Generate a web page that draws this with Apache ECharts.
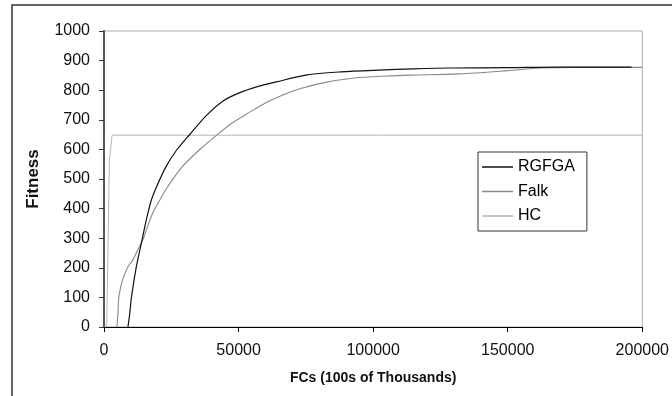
<!DOCTYPE html>
<html>
<head>
<meta charset="utf-8">
<script src="https://cdn.jsdelivr.net/npm/echarts@6/dist/echarts.min.js"></script>
<style>
  html, body { margin: 0; padding: 0; background: #fff; }
  #chart { width: 672px; height: 396px; }
</style>
</head>
<body>
<div id="chart"></div>
<script>
// values, [FCs, fitness]
const rgfga = [
  [8900, 0], [9500, 40], [10200, 100], [12000, 203], [13900, 284], [15700, 361],
  [17600, 429], [19500, 473], [23000, 541], [27000, 598], [32000, 652], [38000, 714], [44000, 762],
  [50000, 790], [57000, 812], [64000, 828], [75000, 851], [88000, 862], [102000, 868],
  [115000, 872], [129000, 875], [150000, 876], [168000, 878], [196000, 878]
];
const falk = [
  [4800, 0], [5200, 50], [5500, 100], [6600, 150], [7400, 172], [9000, 205], [10700, 226],
  [12500, 260], [14400, 294], [16200, 340], [18100, 385], [20700, 429], [23600, 473],
  [29000, 541], [35400, 598], [42800, 655], [47600, 689], [54000, 725], [60000, 757],
  [66000, 782], [71000, 800], [81000, 824], [93000, 841], [105000, 848], [114000, 851],
  [132000, 855], [150000, 866], [162000, 875], [175000, 877], [200000, 877]
];
const hc = [[1000, 0], [2000, 560], [3000, 648], [200000, 648]];
const seriesNames = ['RGFGA', 'Falk', 'HC'];
const xTitle = 'FCs (100s of Thousands)';
const yTitle = 'Fitness';

const chart = echarts.init(document.getElementById('chart'));
const font = '"Liberation Sans", Arial, sans-serif';

let option = {
  animation: false,
  backgroundColor: '#fff',
  graphic: [{
    // outer chart frame, runs off the bottom/right of the picture
    type: 'rect',
    shape: { x: 12, y: 5, width: 700, height: 420 },
    style: { fill: 'none', stroke: '#333', lineWidth: 1.5 },
    silent: true
  }],
  grid: {
    left: 104, right: 26, top: 31, bottom: 69,
    show: true, borderColor: '#aaa', borderWidth: 1, backgroundColor: 'transparent'
  },
  legend: {
    data: seriesNames,
    orient: 'vertical',
    left: 478, top: 152,
    icon: 'rect',
    itemWidth: 31, itemHeight: 1.5, itemGap: 8.5,
    padding: [7, 12, 7, 4],
    borderColor: '#333', borderWidth: 1,
    backgroundColor: '#fff',
    textStyle: { fontFamily: font, fontSize: 16, color: '#000', lineHeight: 16 }
  },
  xAxis: {
    type: 'value',
    min: 0, max: 200000, interval: 50000,
    name: xTitle,
    nameLocation: 'middle',
    nameGap: 44,
    nameTextStyle: { fontFamily: font, fontSize: 14, fontWeight: 'bold', color: '#111' },
    axisLine: { show: true, onZero: false, lineStyle: { color: '#000', width: 1 } },
    axisTick: { show: true, inside: false, length: 5, lineStyle: { color: '#000' } },
    axisLabel: { fontFamily: font, fontSize: 16, color: '#111', margin: 16,
      formatter: v => String(v) },
    splitLine: { show: false }
  },
  yAxis: {
    type: 'value',
    min: 0, max: 1000, interval: 100,
    name: yTitle,
    nameLocation: 'middle',
    nameGap: 62,
    nameTextStyle: { fontFamily: font, fontSize: 17, fontWeight: 'bold', color: '#111' },
    axisLine: { show: true, onZero: false, lineStyle: { color: '#555', width: 2 } },
    axisTick: { show: true, inside: false, length: 5, lineStyle: { color: '#333' } },
    axisLabel: { fontFamily: font, fontSize: 16, color: '#111', margin: 14,
      formatter: v => String(v) },
    splitLine: { show: false }
  },
  series: [
    { name: 'RGFGA', type: 'line', data: rgfga, symbol: 'none', smooth: 0.3,
      lineStyle: { color: '#111', width: 1.2 }, itemStyle: { color: '#111' }, z: 4 },
    { name: 'Falk', type: 'line', data: falk, symbol: 'none', smooth: 0.3,
      lineStyle: { color: '#888', width: 1.1 }, itemStyle: { color: '#888' }, z: 3 },
    { name: 'HC', type: 'line', data: hc, symbol: 'none',
      lineStyle: { color: '#b5b5b5', width: 1 }, itemStyle: { color: '#b5b5b5' }, z: 2 }
  ]
};
chart.setOption(option);
</script>
</body>
</html>
